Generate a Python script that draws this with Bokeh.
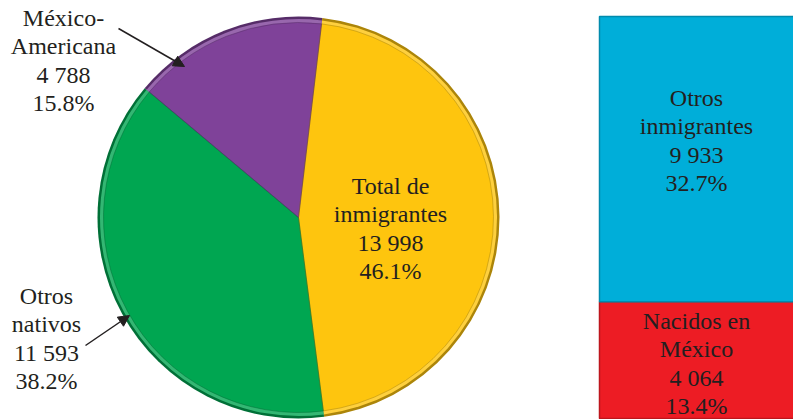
import math
from bokeh.plotting import figure
from bokeh.models import Range1d, Arrow, NormalHead, ColumnDataSource
from bokeh.core.properties import value
from bokeh.embed import file_html
from bokeh.resources import INLINE

# ---- data ----
pie_labels = ["Total de\ninmigrantes", "Otros\nnativos", "México-\nAmericana"]
pie_values = [13998, 11593, 4788]
pie_pcts = ["46.1%", "38.2%", "15.8%"]
pie_counts = ["13 998", "11 593", "4 788"]
pie_colors = ["#FEC50E", "#00A651", "#7F4299"]

bar_labels = ["Nacidos en\nMéxico", "Otros\ninmigrantes"]
bar_values = [4064, 9933]
bar_pcts = ["13.4%", "32.7%"]
bar_counts = ["4 064", "9 933"]
bar_colors = ["#ED1C24", "#00AED9"]

# ---- layout (screen pixels) ----
W, H = 793, 419
bar_top_px, bar_bot_px = 16, 418
total = sum(bar_values)
scale = (bar_bot_px - bar_top_px) / total  # px per unit


def X(sx):
    return sx / scale


def Y(sy):
    return (bar_bot_px - sy) / scale


p = figure(width=W, height=H, output_backend="svg", toolbar_location=None,
           x_range=Range1d(X(0), X(W)), y_range=Range1d(Y(H), Y(0)),
           min_border=0)
p.axis.visible = False
p.grid.visible = False
p.outline_line_color = None
p.background_fill_color = "white"

# ---- pie ----
cx, cy = X(298), Y(217)
R = total / 2.0
pie_total = sum(pie_values)
offset = math.radians(90 - 6.8)  # first slice boundary, just right of top
starts, ends = [], []
cum = 0.0
for v in pie_values:
    a0 = offset - 2 * math.pi * cum / pie_total
    cum += v
    a1 = offset - 2 * math.pi * cum / pie_total
    starts.append(a1)
    ends.append(a0)


def darker(hexc, f):
    r, g, b = int(hexc[1:3], 16), int(hexc[3:5], 16), int(hexc[5:7], 16)
    return "#%02x%02x%02x" % (int(r * f), int(g * f), int(b * f))


def lighter(hexc, f):
    r, g, b = int(hexc[1:3], 16), int(hexc[3:5], 16), int(hexc[5:7], 16)
    return "#%02x%02x%02x" % (int(r + (255 - r) * f), int(g + (255 - g) * f), int(b + (255 - b) * f))


src = ColumnDataSource(dict(start=starts, end=ends, color=pie_colors,
                            edge=[darker(c, 0.68) for c in pie_colors],
                            hi=[lighter(c, 0.2) for c in pie_colors]))
p.wedge(x=cx, y=cy, radius=R, start_angle="start", end_angle="end",
        fill_color="edge", line_color=None, source=src)
p.wedge(x=cx, y=cy, radius=R - 2.5 / scale, start_angle="start", end_angle="end",
        fill_color="hi", line_color=None, source=src)
p.wedge(x=cx, y=cy, radius=R - 6 / scale, start_angle="start", end_angle="end",
        fill_color="color", line_color=None, source=src)
p.wedge(x=cx, y=cy, radius=R - 6 / scale, start_angle="start", end_angle="end",
        fill_color=None, line_color="edge", line_width=1, line_alpha=0.5, source=src)

font = value("'Liberation Serif', 'DejaVu Serif', serif")
fs = "24px"
lh = 1.1
tc = "#231F20"

# inside label for immigrants slice
p.text(x=[X(390)], y=[Y(228)], text=[f"{pie_labels[0]}\n{pie_counts[0]}\n{pie_pcts[0]}"],
       text_font=font, text_font_size=fs, text_align="center", text_baseline="middle",
       text_line_height=lh, text_color=tc)

# outside labels
ext_pos = {1: (46, 338), 2: (63, 60)}
for i, (sx, sy) in ext_pos.items():
    p.text(x=[X(sx)], y=[Y(sy)], text=[f"{pie_labels[i]}\n{pie_counts[i]}\n{pie_pcts[i]}"],
           text_font=font, text_font_size=fs, text_align="center", text_baseline="middle",
           text_line_height=lh, text_color=tc)

arrows = [((118, 28), (184, 66)), ((85, 345), (129, 315))]
for (x0, y0), (x1, y1) in arrows:
    p.add_layout(Arrow(end=NormalHead(size=11, fill_color=tc, line_color=tc),
                       x_start=X(x0), y_start=Y(y0), x_end=X(x1), y_end=Y(y1),
                       line_color=tc, line_width=1.5))

# ---- stacked bar ----
bx0, bx1 = X(599), X(805)
bottoms, tops = [], []
c = 0
for v in bar_values:
    bottoms.append(c)
    c += v
    tops.append(c)
bsrc = ColumnDataSource(dict(bottom=bottoms, top=tops, color=bar_colors,
                             edge=[darker(cc, 0.8) for cc in bar_colors]))
p.quad(left=bx0, right=bx1, bottom="bottom", top="top", fill_color="color",
       line_color="edge", line_width=1.5, source=bsrc)
label_y = [Y(363), Y(140)]
bx = X(696)
for i in range(len(bar_values)):
    p.text(x=[bx], y=[label_y[i]], text=[f"{bar_labels[i]}\n{bar_counts[i]}\n{bar_pcts[i]}"],
           text_font=font, text_font_size=fs, text_align="center", text_baseline="middle",
           text_line_height=lh, text_color=tc)

open("out.html", "w").write(file_html(p, INLINE))
